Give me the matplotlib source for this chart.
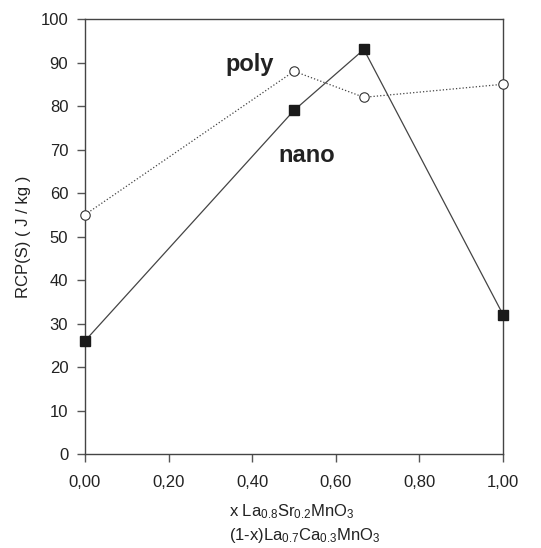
import matplotlib
matplotlib.use("Agg")
import matplotlib.pyplot as plt
from matplotlib.ticker import FuncFormatter

plt.rcParams['font.family'] = ['Liberation Sans', 'DejaVu Sans']
plt.rcParams['mathtext.fontset'] = 'custom'
plt.rcParams['mathtext.rm'] = 'Liberation Sans'
plt.rcParams['mathtext.it'] = 'Liberation Sans:italic'
plt.rcParams['mathtext.default'] = 'rm'

# 組成 x と RCP(S) の値
x = [0.0, 0.5, 0.667, 1.0]
nano = [26, 79, 93, 32]
poly = [55, 88, 82, 85]

fig = plt.figure(figsize=(5.41, 5.48), dpi=100)
ax = fig.add_axes([0.157, 0.1715, 0.773, 0.7938])

ax.plot(x, poly, ls=':', lw=0.9, c='#444444', marker='o', ms=6.8,
        mfc='white', mec='#333333', mew=0.8, clip_on=False, zorder=3)
ax.plot(x, nano, ls='-', lw=0.9, c='#444444', marker='s', ms=7.5,
        mfc='#1a1a1a', mec='#1a1a1a', clip_on=False, zorder=4)

ax.text(0.335, 89.5, 'poly', fontsize=17, fontweight='bold', color='#222222', va='center')
ax.text(0.462, 68.7, 'nano', fontsize=17, fontweight='bold', color='#222222', va='center')

ax.set_xlim(0, 1)
ax.set_ylim(0, 100)
ax.set_xticks([0, 0.2, 0.4, 0.6, 0.8, 1.0])
ax.set_yticks(range(0, 101, 10))
ax.xaxis.set_major_formatter(FuncFormatter(lambda v, p: f"{v:.2f}".replace('.', ',')))
ax.tick_params(direction='out', length=6, width=1, colors='#555555', labelcolor='#222222',
               labelsize=12)
ax.tick_params(axis='x', pad=9)
ax.tick_params(axis='y', pad=6)
for s in ax.spines.values():
    s.set_color('#444444')
    s.set_linewidth(1)

ax.set_ylabel('RCP(S) ( J / kg )', fontsize=12, color='#222222')
ax.yaxis.set_label_coords(-0.13, 0.5)

# x軸のラベル (2行)
ax.text(0.3445, -0.133, 'x La$_{0.8}$Sr$_{0.2}$MnO$_3$', transform=ax.transAxes,
        fontsize=12, color='#222222', ha='left', va='center')
ax.text(0.3445, -0.187, '(1-x)La$_{0.7}$Ca$_{0.3}$MnO$_3$', transform=ax.transAxes,
        fontsize=12, color='#222222', ha='left', va='center')

fig.savefig('out.png', dpi=100)
